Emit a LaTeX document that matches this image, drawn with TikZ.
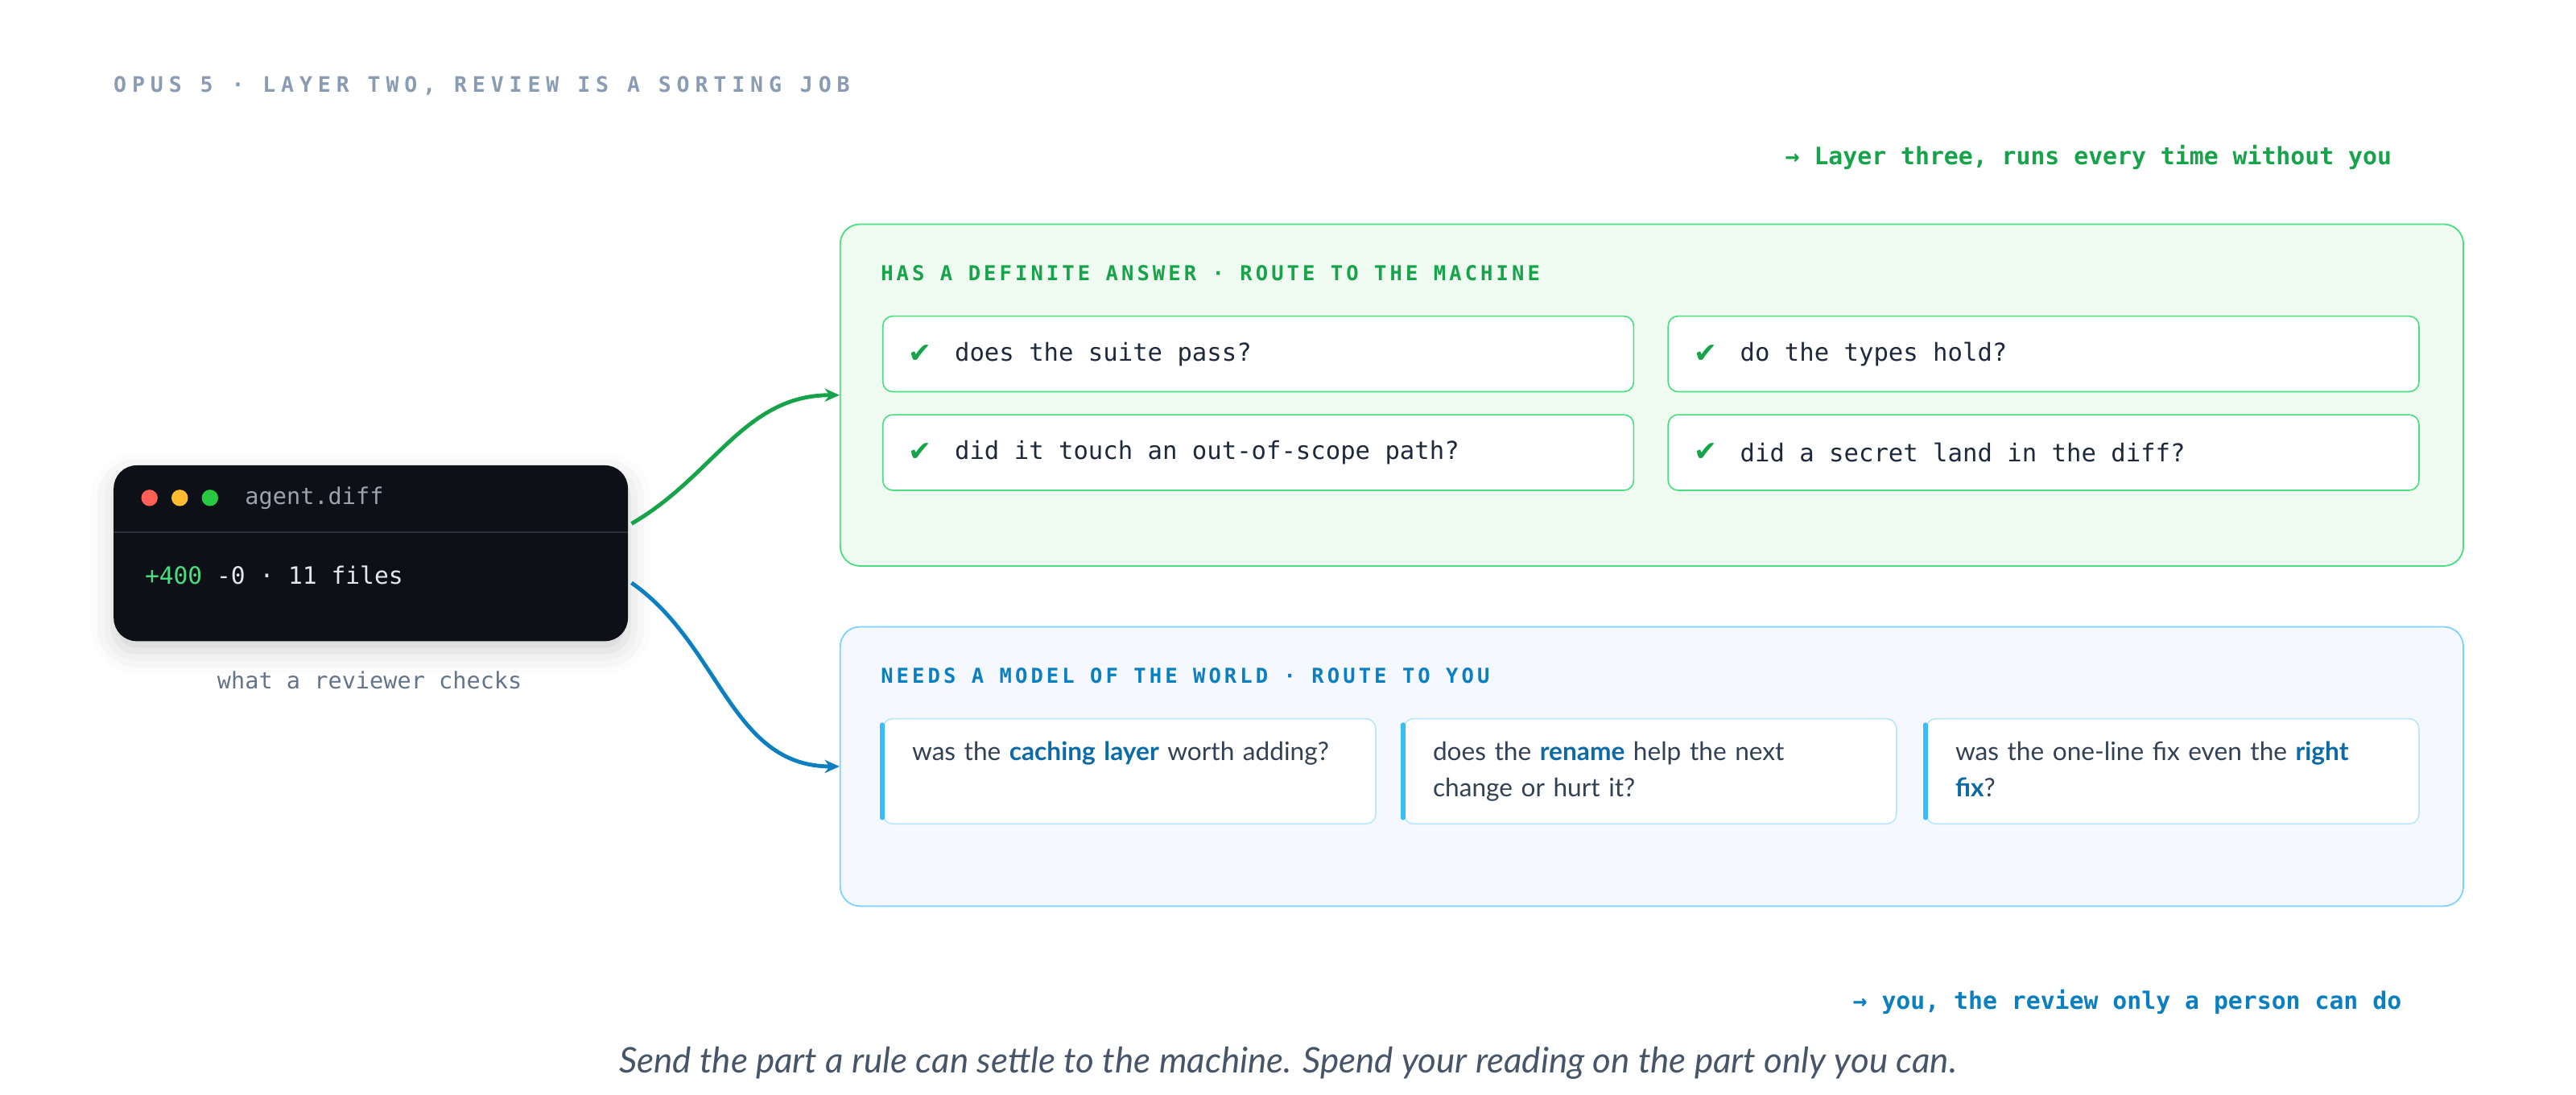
\documentclass[tikz,border=0pt]{standalone}
\usepackage{fontspec}
\setmainfont{Lato}
\setmonofont{DejaVu Sans Mono}
\newfontfamily\symfont{DejaVu Sans}
\newfontfamily\spacedmono[LetterSpace=16]{DejaVu Sans Mono}
\newfontfamily\widemono[LetterSpace=26]{DejaVu Sans Mono}
\usetikzlibrary{positioning,shadows.blur,arrows.meta}
\definecolor{capgray}{HTML}{8A9BB4}
\definecolor{machgreen}{HTML}{16A34A}
\definecolor{machline}{HTML}{4ADE80}
\definecolor{machfill}{HTML}{EFFBF1}
\definecolor{youblue}{HTML}{0B7FC0}
\definecolor{youline}{HTML}{7DD3FC}
\definecolor{youfill}{HTML}{F5F9FF}
\definecolor{cardline}{HTML}{BAE6FD}
\definecolor{accent}{HTML}{38BDF8}
\definecolor{ink}{HTML}{1E293B}
\definecolor{body}{HTML}{334155}
\definecolor{boldblue}{HTML}{0C6AA6}
\definecolor{termbg}{HTML}{0D1117}
\definecolor{termrule}{HTML}{2A2F3A}
\definecolor{termgray}{HTML}{9CA3AF}
\definecolor{termtext}{HTML}{E5E7EB}
\definecolor{muted}{HTML}{64748B}
\definecolor{quote}{HTML}{475569}
\definecolor{dotred}{HTML}{FF5F57}
\definecolor{dotamber}{HTML}{FEBC2E}
\definecolor{dotgreen}{HTML}{28C840}
\newcommand{\fs}[1]{\fontsize{#1}{#1}\selectfont}
\newcommand{\hl}[1]{\textcolor{boldblue}{\textbf{#1}}}
\tikzset{
  panel/.style={draw, rounded corners=12pt, line width=0.9pt, anchor=north west, inner sep=0pt},
  check card/.style={draw=machline, fill=white, rounded corners=6pt, line width=0.8pt,
    minimum width=457pt, minimum height=46pt, anchor=north west},
  ask card/.style={draw=cardline, fill=white, rounded corners=6pt, line width=0.8pt,
    minimum width=300pt, minimum height=64pt, anchor=north west},
  ask text/.style={text=body, font=\fs{15.5}, align=left, text width=262pt, anchor=north west,
    inner sep=0pt, execute at begin node=\setlength{\baselineskip}{22pt}},
  heading/.style={font=\spacedmono\bfseries\fs{12.5}, anchor=west, inner sep=0pt},
  route/.style={line width=2.4pt, -{Stealth[length=9pt,width=8pt]}},
  dot/.style={circle, inner sep=0pt, minimum size=10pt}
}
\begin{document}
\begin{tikzpicture}[x=1pt,y=-1pt]
\useasboundingbox (0,0) rectangle (1568,666);
%title and the two tags
\node[heading, font=\widemono\bfseries\fs{13}, text=capgray] (title) at (69,52) {OPUS 5 · LAYER TWO, REVIEW IS A SORTING JOB};
\node[anchor=east, inner sep=0pt, font=\ttfamily\bfseries\fs{14.6}, text=machgreen] (tagmach) at (1456,96) {→ Layer three, runs every time without you};
\node[anchor=east, inner sep=0pt, font=\ttfamily\bfseries\fs{14.6}, text=youblue] (tagyou) at (1462,610) {→ you, the review only a person can do};
%the terminal window
\node[fill=termbg, rounded corners=14pt, minimum width=313pt, minimum height=107pt, anchor=north west,
  blur shadow={shadow xshift=0pt, shadow yshift=-6pt, shadow blur radius=14pt, shadow opacity=18}] (term) at (69,283) {};
\draw[termrule, line width=0.8pt] (69,324) -- (382,324);
\node[dot, fill=dotred] (d1) at (91,303) {};
\node[dot, fill=dotamber, right=8pt of d1] (d2) {};
\node[dot, fill=dotgreen, right=8pt of d2] (d3) {};
\node[anchor=west, inner sep=0pt, font=\ttfamily\fs{14}, text=termgray] (fname) at (149,303) {agent.diff};
\node[anchor=west, inner sep=0pt, font=\ttfamily\fs{14.5}, text=termtext] (stat) at (88,350) {\textcolor{machline}{+400} -0 · 11 files};
\node[inner sep=0pt, font=\ttfamily\fs{14}, text=muted] (cap) at (225,414) {what a reviewer checks};
%panel for the machine
\node[panel, draw=machline, fill=machfill, minimum width=988pt, minimum height=208pt] (mach) at (511,136) {};
\node[heading, text=machgreen] (machhead) at (536,166) {HAS A DEFINITE ANSWER · ROUTE TO THE MACHINE};
\node[check card] (q1) at (537,192) {};
\node[check card] (q2) at (1015,192) {};
\node[check card] (q3) at (537,252) {};
\node[check card] (q4) at (1015,252) {};
\foreach \q/\t in {q1/does the suite pass?, q2/do the types hold?, q3/did it touch an out-of-scope path?, q4/did a secret land in the diff?}{
  \node[anchor=west, inner sep=0pt, font=\symfont\bfseries\fs{17}, text=machgreen] (\q c) at ([xshift=16pt]\q.west) {✔};
  \node[anchor=west, inner sep=0pt, font=\ttfamily\fs{15}, text=ink] (\q t) at ([xshift=44pt]\q.west) {\t};
}
%panel for you
\node[panel, draw=youline, fill=youfill, minimum width=988pt, minimum height=170pt] (you) at (511,381) {};
\node[heading, text=youblue] (youhead) at (536,411) {NEEDS A MODEL OF THE WORLD · ROUTE TO YOU};
\node[ask card] (a1) at (537,437) {};
\node[ask card] (a2) at (854,437) {};
\node[ask card] (a3) at (1172,437) {};
\foreach \a in {a1,a2,a3}
  \draw[accent, line width=2.6pt, line cap=round] ([yshift=-4pt]\a.north west) -- ([yshift=4pt]\a.south west);
\node[ask text] (a1t) at ([xshift=18pt,yshift=-14pt]a1.north west) {was the \hl{caching layer} worth adding?};
\node[ask text, text width=240pt] (a2t) at ([xshift=18pt,yshift=-14pt]a2.north west) {does the \hl{rename} help the next change or hurt it?};
\node[ask text, text width=250pt] (a3t) at ([xshift=18pt,yshift=-14pt]a3.north west) {was the one-line fix even the \hl{right fix}?};
%routes out of the diff
\draw[route, machgreen] ([xshift=2pt,yshift=18pt]term.east) to[out=30, in=180] (mach.west);
\draw[route, youblue] ([xshift=2pt,yshift=-18pt]term.east) to[out=-35, in=180] (you.west);
%closing line
\node[inner sep=0pt, font=\itshape\fs{21.5}, text=quote] (close) at (784,647) {Send the part a rule can settle to the machine. Spend your reading on the part only you can.};
\end{tikzpicture}
\end{document}
